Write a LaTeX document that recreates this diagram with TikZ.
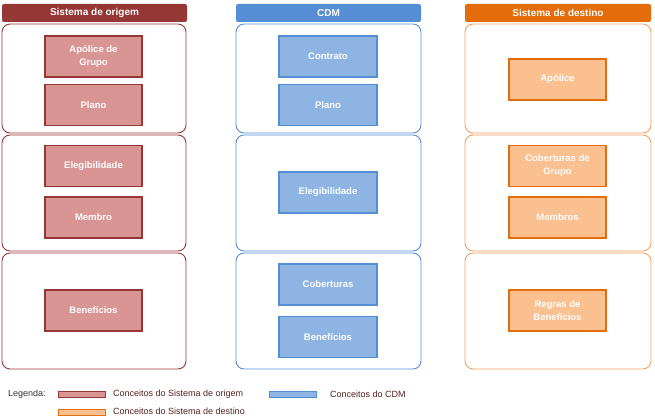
\documentclass[tikz,border=0pt]{standalone}
\usepackage{fontspec}
\setmainfont{Liberation Sans}
\definecolor{redD}{HTML}{953735}
\definecolor{redF}{HTML}{D99594}
\definecolor{bluD}{HTML}{558ED5}
\definecolor{bluF}{HTML}{8EB4E3}
\definecolor{oraD}{HTML}{E46C0A}
\definecolor{oraP}{HTML}{F0A060}
\definecolor{oraF}{HTML}{FAC090}
\definecolor{legtxt}{HTML}{5A2020}
\tikzset{
  hdr/.style={rectangle, rounded corners=2pt, minimum height=18pt, inner sep=0pt, text=white, font=\fontsize{10}{11}\selectfont\bfseries},
  panel/.style={rectangle, rounded corners=8pt, draw, line width=0.9pt, fill=white, inner sep=0pt},
  cbox/.style={rectangle, draw, line width=1.3pt, minimum height=41pt, inner sep=0pt, align=center, text=white, font=\fontsize{9.5}{13}\selectfont\bfseries},
  redbox/.style={cbox, fill=redF, draw=redD, minimum width=97pt},
  blubox/.style={cbox, fill=bluF, draw=bluD, minimum width=98pt},
  orabox/.style={cbox, fill=oraF, draw=oraD, minimum width=97pt},
  swatch/.style={rectangle, draw, line width=1pt, minimum width=47pt, minimum height=6pt, inner sep=0pt},
  legtext/.style={anchor=west, inner sep=0pt, text=legtxt, font=\fontsize{9}{10}\selectfont}
}
\begin{document}
\begin{tikzpicture}[x=1pt,y=-1pt]
\useasboundingbox (0,0) rectangle (655,417);
% headers
\node[hdr, fill=redD, minimum width=185pt] (h1) at (94.5,13) {Sistema de origem};
\node[hdr, fill=bluD, minimum width=185pt] (h2) at (328.5,13) {CDM};
\node[hdr, fill=oraD, minimum width=186pt] (h3) at (558,13) {Sistema de destino};
% panels left
\node[panel, draw=redD, minimum width=184pt, minimum height=109pt] (l1) at (94,78.5) {};
\node[panel, draw=redD, minimum width=184pt, minimum height=116pt] (l2) at (94,193) {};
\node[panel, draw=redD, minimum width=184pt, minimum height=116pt] (l3) at (94,311) {};
% panels center
\node[panel, draw=bluD, minimum width=185pt, minimum height=109pt] (c1) at (328.5,78.5) {};
\node[panel, draw=bluD, minimum width=185pt, minimum height=116pt] (c2) at (328.5,193) {};
\node[panel, draw=bluD, minimum width=185pt, minimum height=116pt] (c3) at (328.5,311) {};
% panels right
\node[panel, draw=oraP, minimum width=186pt, minimum height=109pt] (r1) at (558,78.5) {};
\node[panel, draw=oraP, minimum width=186pt, minimum height=116pt] (r2) at (558,193) {};
\node[panel, draw=oraP, minimum width=186pt, minimum height=116pt] (r3) at (558,311) {};
% left boxes
\node[redbox] (la) at (93.5,56.5) {Apólice de\\Grupo};
\node[redbox] (lp) at (93.5,105) {Plano};
\node[redbox] (le) at (93.5,166) {Elegibilidade};
\node[redbox] (lm) at (93.5,217.5) {Membro};
\node[redbox] (lb) at (93.5,310.5) {Benefícios};
% center boxes
\node[blubox] (cc) at (328,56.5) {Contrato};
\node[blubox] (cp) at (328,105) {Plano};
\node[blubox] (ce) at (328,192.5) {Elegibilidade};
\node[blubox] (cco) at (328,284.5) {Coberturas};
\node[blubox] (cb) at (328,337) {Benefícios};
% right boxes
\node[orabox] (ra) at (557.5,79.5) {Apólice};
\node[orabox] (rc) at (557.5,166) {Coberturas de\\Grupo};
\node[orabox] (rm) at (557.5,217.5) {Membros};
\node[orabox] (rr) at (557.5,310.5) {Regras de\\Benefícios};
% legend
\node[anchor=west, inner sep=0pt, font=\fontsize{9}{10}\selectfont, text=black!80] (lg) at (8,394) {Legenda:};
\node[swatch, draw=redD, fill=redF] (s1) at (82,394) {};
\node[legtext] (t1) at (113,394) {Conceitos do Sistema de origem};
\node[swatch, draw=bluD, fill=bluF] (s2) at (292.5,394) {};
\node[legtext] (t2) at (330,394) {Conceitos do CDM};
\node[swatch, draw=oraD, fill=oraF] (s3) at (82,412) {};
\node[legtext] (t3) at (113,411) {Conceitos do Sistema de destino};
\end{tikzpicture}
\end{document}
